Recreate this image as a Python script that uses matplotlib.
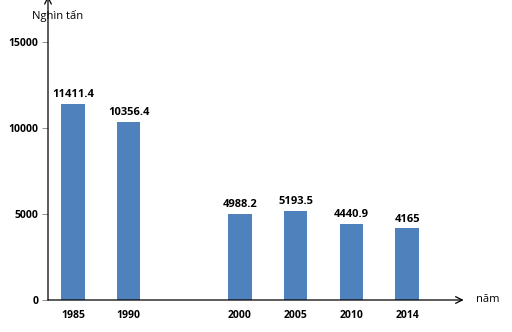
import matplotlib.pyplot as plt

years = ['1985', '1990', '2000', '2005', '2010', '2014']
slots = [0, 1, 3, 4, 5, 6]  # gap left for the missing 1995
output = [11411.4, 10356.4, 4988.2, 5193.5, 4440.9, 4165]
value_labels = ['11411.4', '10356.4', '4988.2', '5193.5', '4440.9', '4165']

plt.rcParams['font.family'] = ['Open Sans', 'DejaVu Sans']

fig = plt.figure(figsize=(5.12, 3.32), dpi=100)
ax = fig.add_axes([48 / 512, 32 / 332, 422 / 512, 304 / 332])

ax.bar(slots, output, width=0.42, color='#4F81BD')
for x, v, s in zip(slots, output, value_labels):
    ax.text(x, v + 220, s, ha='center', va='bottom', fontsize=8, fontweight='bold')

ax.set_xlim(-0.449, 7.13)
ax.set_ylim(0, 15000 * 304 / 258)

for side in ['top', 'right', 'left', 'bottom']:
    ax.spines[side].set_visible(False)

# axes drawn as arrows
ax.annotate('', xy=(0, 1), xytext=(0, 0), xycoords='axes fraction',
            arrowprops=dict(arrowstyle='->', color='black', lw=0.9, shrinkA=0, shrinkB=0,
                            mutation_scale=12))
ax.annotate('', xy=(0.985, 0), xytext=(0, 0), xycoords='axes fraction',
            arrowprops=dict(arrowstyle='->', color='black', lw=0.9, shrinkA=0, shrinkB=0,
                            mutation_scale=12))

ax.set_yticks([0, 5000, 10000, 15000])
ax.set_yticklabels(['0', '5000', '10000', '15000'], fontsize=7.5, fontweight='bold')
ax.tick_params(axis='y', length=4, width=0.6, color='#808080', pad=3)
ax.set_xticks(slots)
ax.set_xticklabels(years, fontsize=7.5, fontweight='bold')
ax.tick_params(axis='x', length=0, pad=7)

fig.text(32 / 512, 1 - 16 / 332, 'Nghìn tấn', fontsize=8, va='center')
fig.text(476 / 512, 1 - 299 / 332, 'năm', fontsize=8, va='center')

fig.savefig('out.png', dpi=100)
